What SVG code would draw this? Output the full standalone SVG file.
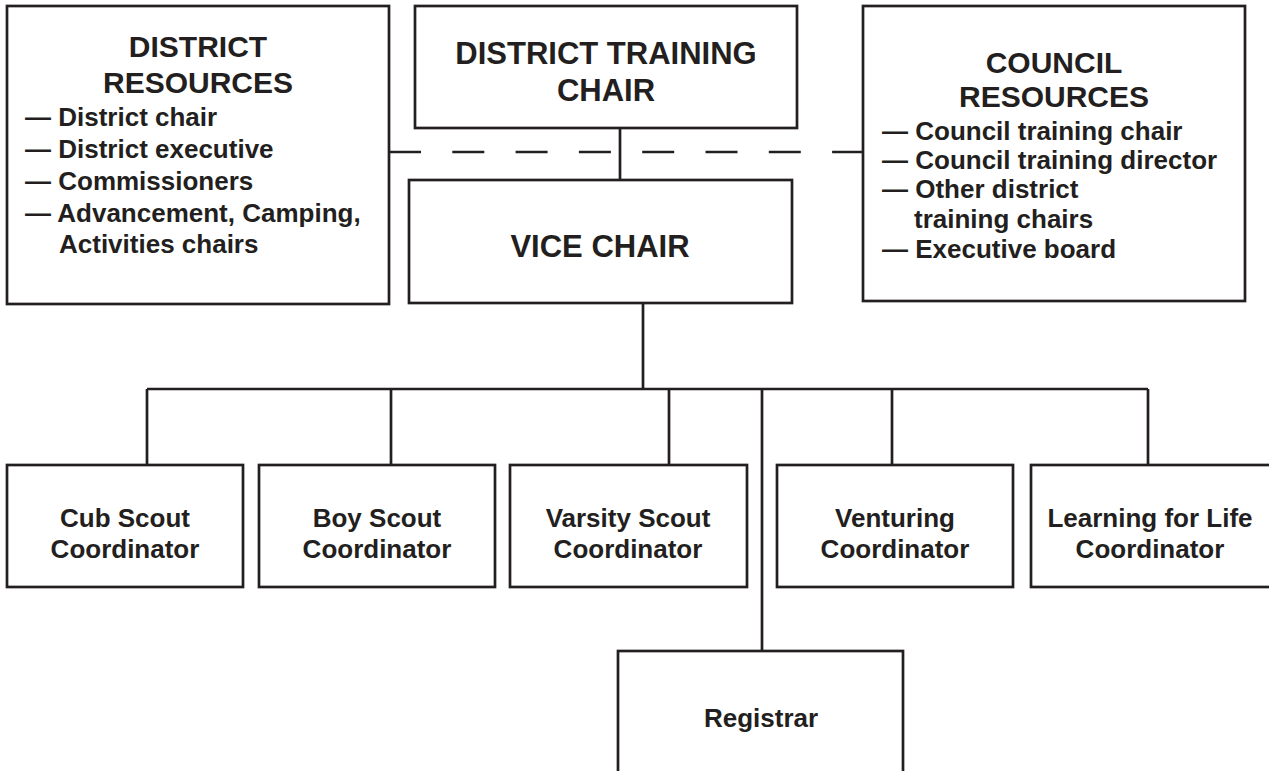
<svg xmlns="http://www.w3.org/2000/svg" width="1269" height="771" viewBox="0 0 1269 771">
<style>
  .box { fill: #ffffff; stroke: #231f20; stroke-width: 2.7; }
  .ln { fill: none; stroke: #231f20; stroke-width: 2.7; }
  .dash { fill: none; stroke: #231f20; stroke-width: 2.7; stroke-dasharray: 32 31.3; }
  text { font-family: "Liberation Sans", Arial, Helvetica, sans-serif; font-weight: bold; fill: #231f20; }
  .h { font-size: 30px; text-anchor: middle; }
  .t { font-size: 31px; text-anchor: middle; }
  .i { font-size: 26px; }
  .c { font-size: 26px; text-anchor: middle; }
</style>
<rect width="1269" height="771" fill="#ffffff"/>
<g id="connectors">
  <line class="dash" x1="389" y1="152" x2="863" y2="152"/>
  <line class="ln" x1="620" y1="128" x2="620" y2="180"/>
  <line class="ln" x1="643" y1="303" x2="643" y2="389"/>
  <line class="ln" x1="147" y1="389" x2="1148" y2="389"/>
  <line class="ln" x1="147" y1="389" x2="147" y2="465"/>
  <line class="ln" x1="391" y1="389" x2="391" y2="465"/>
  <line class="ln" x1="669" y1="389" x2="669" y2="465"/>
  <line class="ln" x1="892" y1="389" x2="892" y2="465"/>
  <line class="ln" x1="1148" y1="389" x2="1148" y2="465"/>
  <line class="ln" x1="762" y1="389" x2="762" y2="651"/>
</g>
<g id="district-resources">
  <rect class="box" x="7" y="6" width="382" height="298"/>
  <text class="h" x="198" y="57">DISTRICT</text>
  <text class="h" x="198" y="93">RESOURCES</text>
  <text class="i" x="25" y="126">— District chair</text>
  <text class="i" x="25" y="158">— District executive</text>
  <text class="i" x="25" y="190">— Commissioners</text>
  <text class="i" x="25" y="222">— Advancement, Camping,</text>
  <text class="i" x="59" y="253">Activities chairs</text>
</g>
<g id="district-training-chair">
  <rect class="box" x="415" y="6" width="382" height="122"/>
  <text class="t" x="606" y="64">DISTRICT TRAINING</text>
  <text class="t" x="606" y="101">CHAIR</text>
</g>
<g id="vice-chair">
  <rect class="box" x="409" y="180" width="383" height="123"/>
  <text class="t" x="600" y="257">VICE CHAIR</text>
</g>
<g id="council-resources">
  <rect class="box" x="863" y="6" width="382" height="295"/>
  <text class="h" x="1054" y="73">COUNCIL</text>
  <text class="h" x="1054" y="107">RESOURCES</text>
  <text class="i" x="882" y="140">— Council training chair</text>
  <text class="i" x="882" y="169">— Council training director</text>
  <text class="i" x="882" y="198">— Other district</text>
  <text class="i" x="914" y="228">training chairs</text>
  <text class="i" x="882" y="258">— Executive board</text>
</g>
<g id="cub-scout">
  <rect class="box" x="7" y="465" width="236" height="122"/>
  <text class="c" x="125" y="527">Cub Scout</text>
  <text class="c" x="125" y="558">Coordinator</text>
</g>
<g id="boy-scout">
  <rect class="box" x="259" y="465" width="236" height="122"/>
  <text class="c" x="377" y="527">Boy Scout</text>
  <text class="c" x="377" y="558">Coordinator</text>
</g>
<g id="varsity-scout">
  <rect class="box" x="510" y="465" width="237" height="122"/>
  <text class="c" x="628" y="527">Varsity Scout</text>
  <text class="c" x="628" y="558">Coordinator</text>
</g>
<g id="venturing">
  <rect class="box" x="777" y="465" width="236" height="122"/>
  <text class="c" x="895" y="527">Venturing</text>
  <text class="c" x="895" y="558">Coordinator</text>
</g>
<g id="learning-for-life">
  <rect class="box" x="1031" y="465" width="242" height="122"/>
  <text class="c" x="1150" y="527">Learning for Life</text>
  <text class="c" x="1150" y="558">Coordinator</text>
</g>
<g id="registrar">
  <rect class="box" x="618" y="651" width="285" height="130"/>
  <text class="c" x="761" y="727">Registrar</text>
</g>
</svg>
